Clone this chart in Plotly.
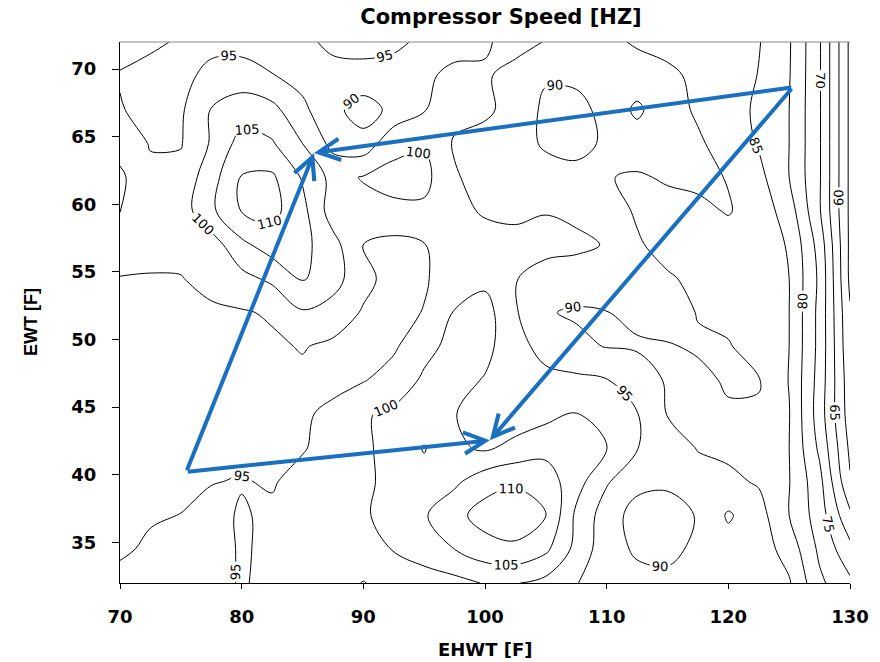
import plotly.graph_objects as go

# ---- data (compressor speed in Hz on an EHWT x EWT grid) ----
ehwt_f = [70, 72.5, 75, 77.5, 80, 82.5, 85, 87.5, 90, 92.5, 95, 97.5, 100,
          102.5, 105, 107.5, 110, 112.5, 115, 117.5, 120, 122.5, 125, 127.5, 130]
ewt_f = [72, 69.5, 67, 64.5, 62, 59.5, 57, 54.5, 52, 49.5, 47, 44.5, 42,
         39.5, 37, 34.5, 32]

row_72 = [96.5, 95.8, 94.5, 93.5, 93, 93, 94, 96, 96.5, 96, 94, 93.5, 94.5, 96.5, 94.8, 93, 91, 89.5, 88.5, 88, 87.5, 85.3, 80.5, 70.5, 54]
row_69 = [94.7, 93.5, 93.5, 96.5, 97.5, 95.2, 93.5, 93.5, 93.5, 93, 94.3, 96, 95.5, 93.5, 90.5, 91, 91.5, 92, 91, 89, 88, 84.8, 80.3, 70.5, 54]
row_67 = [95.3, 93.5, 94.3, 100.2, 102.5, 101.5, 96, 91.5, 87.5, 91.5, 94.8, 96.5, 96, 93, 89, 88.5, 91.5, 96, 91.5, 89.5, 87.5, 84, 80, 70.5, 54]
row_64 = [98, 94.7, 94.7, 100.5, 107, 105.5, 100, 93.5, 92, 98.5, 99.5, 94.5, 93, 91.5, 89.5, 89, 90.5, 92.5, 91.5, 90.5, 88.5, 84.5, 80, 70.5, 54]
row_62 = [101, 96, 96.5, 103, 110.3, 110.8, 104.5, 98.5, 100.3, 101.5, 101.5, 95.5, 93, 92, 91.5, 91, 90.2, 89.5, 90.5, 91, 89.8, 86.5, 80, 70.5, 54]
row_59 = [100.1, 97, 97.5, 104, 110.2, 111.5, 106.5, 97.5, 98.5, 99, 99, 97, 94.2, 94, 94.8, 94, 92, 89.5, 88.5, 89, 90.3, 88, 82.5, 70.5, 54]
row_57 = [97.5, 96.5, 96.5, 97.5, 103.8, 107.5, 106.5, 101.8, 94.8, 93.5, 94.8, 97.5, 98, 96.5, 96.5, 96, 94.7, 90.5, 88.5, 88, 88, 87.5, 84.6, 73, 54]
row_54 = [94.8, 94.7, 94.8, 96.5, 98.5, 101, 105.5, 102, 96.5, 93, 94.5, 97.5, 98.8, 95.2, 93, 92.5, 92, 91.5, 90.5, 89, 88.5, 88, 85, 74, 54]
row_52 = [93.5, 93.5, 94, 94.2, 94.6, 95.5, 99.5, 98, 94.5, 93.5, 95.2, 100.3, 102, 95.5, 90.3, 89.5, 89.9, 91, 92, 89.8, 88.5, 87.5, 85, 73.5, 55.5]
row_49 = [93.5, 93, 93, 93, 93.5, 94.3, 95.3, 94, 93.5, 94.3, 98.5, 101.5, 101.3, 97, 93, 91, 89.8, 89.5, 89.7, 90.5, 90.4, 87.5, 85, 73.5, 56]
row_47 = [93.5, 93, 92.5, 92.5, 93, 93.5, 94, 94, 94.7, 97, 100.8, 101.5, 99.7, 97.5, 96.5, 96, 95.2, 92.5, 89.5, 89, 90.5, 90.3, 84.8, 73, 57]
row_44 = [93.5, 93.5, 93.5, 93.5, 93.5, 94, 94.5, 95.8, 99.5, 101, 101.5, 100.2, 97.5, 97, 98.5, 100.1, 98.5, 95.2, 89.8, 88.5, 89.5, 89.5, 85.2, 72.5, 57.5]
row_42 = [93.5, 93.5, 93.5, 93.5, 93.7, 94, 94.5, 97.5, 99, 102, 105.3, 101, 99.2, 101.5, 103.5, 101.5, 100.2, 95.2, 92, 89.8, 89, 88.5, 85, 74, 59]
row_39 = [93.5, 94, 94.3, 94.8, 95.3, 94.5, 97, 98.5, 99, 101.5, 103.5, 104, 108, 109.3, 107.5, 102, 95.5, 91.5, 90.8, 91.5, 91, 89.5, 85.2, 76.5, 60.5]
row_37 = [94.3, 94.7, 95.05, 96.5, 94.5, 96, 98, 99, 99.5, 101.5, 104.5, 108.5, 112, 113, 110.3, 99, 92.5, 88, 88, 90.3, 95.6, 92, 85, 77.5, 66]
row_34 = [94.5, 95.5, 96.5, 97, 94.5, 96, 97.5, 98.5, 98.5, 100.2, 102.5, 105, 108, 109, 106, 98.5, 92, 89.3, 89, 90.8, 93, 92.5, 88, 79, 71.5]
row_32 = [96, 97, 97, 97, 94.5, 96.5, 97.5, 97, 94.8, 97, 97.5, 98.5, 100.3, 100.3, 98.5, 95.2, 92.5, 91.5, 91, 91, 91.5, 91.5, 90.5, 81, 76]

speed_rows = [row_72, row_69, row_67, row_64, row_62, row_59, row_57, row_54,
              row_52, row_49, row_47, row_44, row_42, row_39, row_37, row_34, row_32]

x_ticks = [70, 80, 90, 100, 110, 120, 130]
y_ticks = [35, 40, 45, 50, 55, 60, 65, 70]

# overlay path (blue arrows): tails and heads
arrow_tail_x = [75.45, 125.3, 75.45, 125.3]
arrow_tail_y = [40.22, 68.65, 40.22, 68.65]
arrow_head_x = [85.95, 85.95, 100.4, 100.4]
arrow_head_y = [63.8, 63.8, 42.55, 42.55]

BLUE = "#1b6fbf"
BOLD = "DejaVu Sans"

fig = go.Figure()
fig.add_trace(go.Contour(
    x=ehwt_f,
    y=ewt_f[::-1],
    z=speed_rows[::-1],
    autocontour=False,
    contours=dict(start=55, end=110, size=5, coloring="none",
                  showlabels=True,
                  labelfont=dict(family="DejaVu Sans", size=13, color="black")),
    line=dict(color="black", width=1, smoothing=1),
    showscale=False,
    hoverinfo="skip",
))

for tx, ty, hx, hy in zip(arrow_tail_x, arrow_tail_y, arrow_head_x, arrow_head_y):
    fig.add_annotation(x=hx, y=hy, ax=tx, ay=ty, xref="x", yref="y",
                       axref="x", ayref="y", text="", showarrow=True,
                       arrowhead=5, arrowsize=1.05, arrowwidth=4,
                       arrowcolor=BLUE)

fig.add_annotation(text="EHWT [F]", xref="paper", yref="paper",
                   x=(485 - 120) / 730, y=(583 - 649) / 541,
                   xanchor="center", yanchor="middle", showarrow=False,
                   font=dict(family=BOLD, size=18, color="black", weight="bold"))
fig.add_annotation(text="EWT [F]", xref="paper", yref="paper",
                   x=(31 - 120) / 730, y=(583 - 322) / 541, textangle=-90,
                   xanchor="center", yanchor="middle", showarrow=False,
                   font=dict(family="Liberation Sans Narrow, Liberation Sans",
                             size=18, color="black", weight="bold"))

fig.add_shape(type="line", xref="paper", yref="paper", x0=0, x1=1, y0=1, y1=1,
              line=dict(color="#8a8a8a", width=1))

fig.update_layout(
    width=880, height=662,
    margin=dict(l=120, r=30, t=42, b=79),
    paper_bgcolor="white", plot_bgcolor="white",
    showlegend=False,
    title=dict(text="Compressor Speed [HZ]", x=501 / 880, xanchor="center",
               y=1 - 17 / 662, yanchor="middle",
               font=dict(family=BOLD, size=21, color="black", weight="bold")),
    xaxis=dict(range=[70, 130], tickvals=x_ticks, ticks="outside", ticklen=5,
               tickcolor="black", showline=True, linecolor="black", linewidth=1,
               showgrid=False, zeroline=False, ticklabelstandoff=12,
               tickfont=dict(family=BOLD, size=18, color="black", weight="bold")),
    yaxis=dict(range=[32, 72], tickvals=y_ticks, ticks="outside", ticklen=7,
               tickcolor="black", showline=True, linecolor="black", linewidth=1,
               showgrid=False, zeroline=False, ticklabelstandoff=12,
               tickfont=dict(family=BOLD, size=18, color="black", weight="bold")),
)

fig.write_html("out.html")
